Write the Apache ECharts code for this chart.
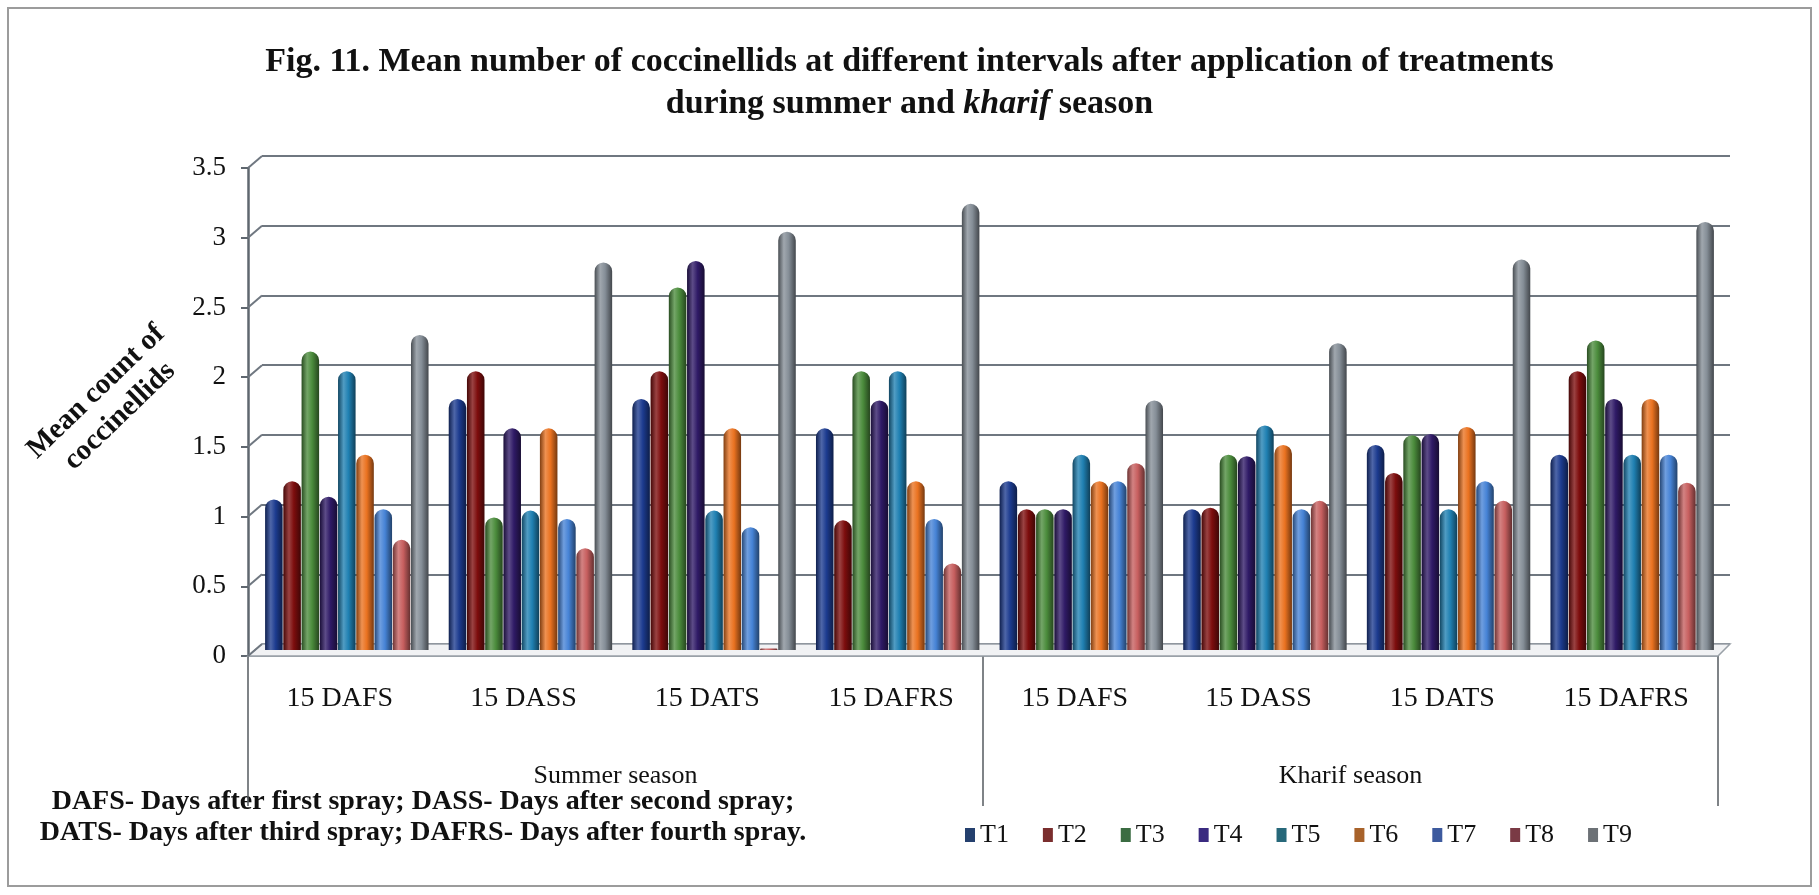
<!DOCTYPE html>
<html>
<head>
<meta charset="utf-8">
<title>Mean number of coccinellids</title>
<script src="https://cdn.jsdelivr.net/npm/echarts/dist/echarts.min.js"></script>
<style>
  html, body { margin: 0; padding: 0; background: #ffffff; }
  #chart { width: 1819px; height: 895px; }
</style>
</head>
<body>
<div id="chart"></div>
<script>
// ---- data ----
const categories = ['15 DAFS', '15 DASS', '15 DATS', '15 DAFRS', '15 DAFS', '15 DASS', '15 DATS', '15 DAFRS'];
const seasons = ['Summer season', 'Kharif season'];
const treatments = ['T1', 'T2', 'T3', 'T4', 'T5', 'T6', 'T7', 'T8', 'T9'];
const yTicks = { min: 0, max: 3.5, step: 0.5 };

const T1 = [1.08, 1.80, 1.80, 1.59, 1.21, 1.01, 1.47, 1.40];
const T2 = [1.21, 2.00, 2.00, 0.93, 1.01, 1.02, 1.27, 2.00];
const T3 = [2.14, 0.95, 2.60, 2.00, 1.01, 1.40, 1.54, 2.22];
const T4 = [1.10, 1.59, 2.79, 1.79, 1.01, 1.39, 1.55, 1.80];
const T5 = [2.00, 1.00, 1.00, 2.00, 1.40, 1.61, 1.01, 1.40];
const T6 = [1.40, 1.59, 1.59, 1.21, 1.21, 1.47, 1.60, 1.80];
const T7 = [1.01, 0.94, 0.88, 0.94, 1.21, 1.01, 1.21, 1.40];
const T8 = [0.79, 0.73, 0.01, 0.62, 1.34, 1.07, 1.07, 1.20];
const T9 = [2.26, 2.78, 3.00, 3.20, 1.79, 2.20, 2.80, 3.07];
const seriesValues = [T1, T2, T3, T4, T5, T6, T7, T8, T9];

// ---- styling ----
const barColors = ['#1c3b8f', '#7d0d0d', '#4b8c3c', '#2f1a66', '#1f80b2', '#ea7220', '#4683d6', '#c75f5f', '#858e97'];
const legendColors = ['#24406e', '#7a2e2e', '#3b6c42', '#3a2a80', '#27687a', '#a8622a', '#3d5a9e', '#7a3a45', '#6c7176'];
const FONT = '"Liberation Serif", "Times New Roman", serif';
const gridColor = '#6f7780';

// front plane (axes), middle (columns) and back wall (gridlines)
const FRONT = { left: 248, right: 1718, top: 168, bottom: 656 };
const MID   = { left: 255, right: 1724, top: 162, bottom: 650 };
const BACK  = { left: 262, right: 1730, top: 156, bottom: 644 };
const box = g => ({ left: g.left, top: g.top, width: g.right - g.left, height: g.bottom - g.top, containLabel: false });

function shade(hex, f) {
  const n = parseInt(hex.slice(1), 16);
  let r = (n >> 16) & 255, g = (n >> 8) & 255, b = n & 255;
  if (f < 1) { r *= f; g *= f; b *= f; }
  else { const t = f - 1; r += (255 - r) * t; g += (255 - g) * t; b += (255 - b) * t; }
  return 'rgb(' + Math.round(r) + ',' + Math.round(g) + ',' + Math.round(b) + ')';
}
function cylinder(hex) {
  return new echarts.graphic.LinearGradient(0, 0, 1, 0, [
    { offset: 0, color: shade(hex, 0.55) },
    { offset: 0.32, color: shade(hex, 1.22) },
    { offset: 0.6, color: hex },
    { offset: 1, color: shade(hex, 0.5) }
  ]);
}

const chart = echarts.init(document.getElementById('chart'), null, { renderer: 'canvas' });

const option = {
  backgroundColor: '#ffffff',
  animation: false,
  title: {
    left: 'center',
    top: 36,
    text: '{b|Fig. 11. Mean number of coccinellids at different intervals after application of treatments}\n{b|during summer and }{i|kharif}{b| season}',
    textStyle: {
      rich: {
        b: { fontFamily: FONT, fontWeight: 'bold', fontSize: 34, color: '#111', lineHeight: 42 },
        i: { fontFamily: FONT, fontWeight: 'bold', fontStyle: 'italic', fontSize: 34, color: '#111', lineHeight: 42 }
      }
    }
  },
  legend: {
    left: 960,
    top: 817,
    icon: 'rect',
    itemWidth: 10,
    itemHeight: 14,
    itemGap: 34,
    textStyle: { fontFamily: FONT, fontSize: 26, color: '#111' },
    data: treatments.map((t, i) => ({ name: t, itemStyle: { color: legendColors[i] } }))
  },
  grid: [box(FRONT), box(MID), box(BACK)],
  xAxis: [
    {
      gridIndex: 0, type: 'category', data: categories,
      axisLine: { show: true, lineStyle: { color: '#9aa1a8', width: 2 } },
      axisTick: { show: false },
      axisLabel: { fontFamily: FONT, fontSize: 28, color: '#111', margin: 29 },
      splitLine: { show: false }
    },
    {
      gridIndex: 0, type: 'category', data: seasons, position: 'bottom',
      axisLine: { show: false },
      axisTick: { show: true, length: 150, lineStyle: { color: '#555b60', width: 1.5 } },
      axisLabel: { fontFamily: FONT, fontSize: 26, color: '#111', margin: 107 },
      splitLine: { show: false }
    },
    { gridIndex: 1, type: 'category', data: categories, show: false },
    { gridIndex: 2, type: 'category', data: categories, show: false }
  ],
  yAxis: [
    {
      gridIndex: 0, type: 'value', min: yTicks.min, max: yTicks.max, interval: yTicks.step,
      axisLine: { show: true, lineStyle: { color: '#5f676f', width: 2.5 } },
      axisTick: { show: true, length: 7, lineStyle: { color: '#5f676f', width: 2 } },
      axisLabel: { fontFamily: FONT, fontSize: 27, color: '#111', margin: 22 },
      splitLine: { show: false }
    },
    { gridIndex: 1, type: 'value', min: yTicks.min, max: yTicks.max, show: false, splitLine: { show: false } },
    {
      gridIndex: 2, type: 'value', min: yTicks.min, max: yTicks.max, interval: yTicks.step,
      axisLine: { show: false }, axisTick: { show: false }, axisLabel: { show: false },
      splitLine: { show: true, lineStyle: { color: gridColor, width: 2 } }
    }
  ],
  series: treatments.map((t, i) => ({
    name: t,
    type: 'bar',
    xAxisIndex: 2,
    yAxisIndex: 1,
    data: seriesValues[i],
    barGap: '4%',
    barCategoryGap: '11%',
    z: 5,
    itemStyle: { color: cylinder(barColors[i]), borderRadius: [9, 9, 0, 0] }
  })),
  graphic: [
    {
      type: 'rect', silent: true, z: -10,
      shape: { x: 8, y: 8, width: 1803, height: 878 },
      style: { fill: 'none', stroke: '#9c9c9c', lineWidth: 2 }
    },
    {
      type: 'group', x: 108, y: 404, rotation: 44 * Math.PI / 180,
      children: [
        { type: 'text', x: 0, y: -17, style: { text: 'Mean count of', font: 'bold 29px ' + FONT, fill: '#111', textAlign: 'center', textVerticalAlign: 'middle' } },
        { type: 'text', x: 0, y: 17, style: { text: 'coccinellids', font: 'bold 29px ' + FONT, fill: '#111', textAlign: 'center', textVerticalAlign: 'middle' } }
      ]
    },
    { type: 'text', x: 423, y: 802, style: { text: 'DAFS- Days after first spray; DASS- Days after second spray;', font: 'bold 28px ' + FONT, fill: '#111', textAlign: 'center', textVerticalAlign: 'middle' } },
    { type: 'text', x: 423, y: 833, style: { text: 'DATS- Days after third spray; DAFRS- Days after fourth spray.', font: 'bold 28px ' + FONT, fill: '#111', textAlign: 'center', textVerticalAlign: 'middle' } }
  ]
};

chart.setOption(option);

// 3-D framing: floor slab and slanted connectors from the front axis to the back wall
const extra = [];
const floorFront = chart.convertToPixel({ yAxisIndex: 0 }, 0);
const floorBack = chart.convertToPixel({ yAxisIndex: 2 }, 0);
extra.push({
  type: 'polygon', silent: true, z: 1,
  shape: { points: [[FRONT.left, floorFront], [BACK.left, floorBack], [BACK.right, floorBack], [FRONT.right, floorFront]] },
  style: { fill: '#f1f2f4', stroke: '#9aa1a8', lineWidth: 1.5 }
});
for (let v = yTicks.min; v <= yTicks.max + 1e-9; v += yTicks.step) {
  const yf = chart.convertToPixel({ yAxisIndex: 0 }, v);
  const yb = chart.convertToPixel({ yAxisIndex: 2 }, v);
  extra.push({
    type: 'line', silent: true, z: 2,
    shape: { x1: FRONT.left, y1: yf, x2: BACK.left, y2: yb },
    style: { stroke: gridColor, lineWidth: 2 }
  });
}
chart.setOption({ graphic: option.graphic.concat(extra) });
</script>
</body>
</html>
